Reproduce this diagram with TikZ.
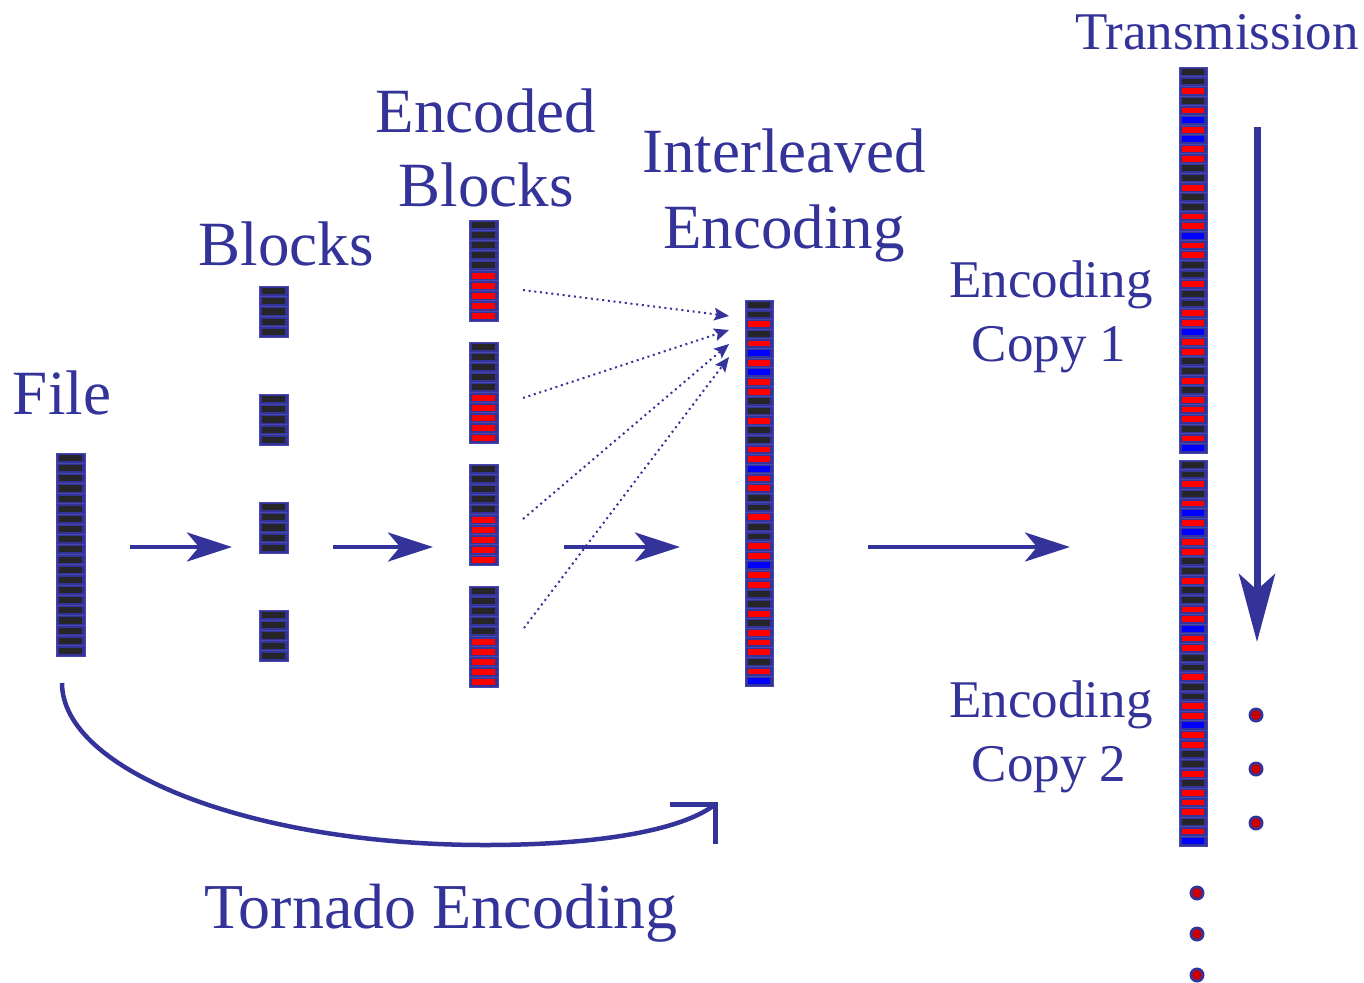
\documentclass[tikz,border=0pt]{standalone}
\usepackage{fontspec}
\setmainfont{Liberation Serif}
\usetikzlibrary{arrows.meta}

\definecolor{ink}{RGB}{51,51,153}
\definecolor{cellline}{RGB}{72,72,175}
\definecolor{K}{RGB}{38,38,40}
\definecolor{R}{RGB}{255,0,0}
\definecolor{B}{RGB}{0,0,255}
\definecolor{dotred}{RGB}{204,0,0}

% bar colour sequences
\def\fileList{K,K,K,K,K,K,K,K,K,K,K,K,K,K,K,K,K,K,K,K}
\def\blockList{K,K,K,K,K}
\def\codedList{K,K,K,K,K,R,R,R,R,R}
\def\mixList{K,K,R,K,R,B,R,B,R,R,K,K,R,K,K,R,R,B,R,R,K,K,R,K,K,R,R,B,R,R,K,K,R,K,R,R,R,K,R,B}

% #1 left x, #2 top y, #3 width, #4 cell height, #5 colour list macro
\newcommand{\drawstrip}[5]{%
  \foreach \c [count=\i from 0] in #5 {
    \path[fill=ink,draw=cellline,line width=0.8pt] (#1,{#2+\i*#4}) rectangle ++(#3,#4);
    \path[fill=\c] ({#1+3},{#2+\i*#4+0.2*#4}) rectangle ({#1+#3-3},{#2+\i*#4+0.8*#4});
  }%
}

\tikzset{
  biglabel/.style={text=ink,inner sep=0pt,anchor=base,font=\fontsize{63pt}{63pt}\selectfont},
  smalllabel/.style={text=ink,inner sep=0pt,anchor=base,font=\fontsize{53pt}{53pt}\selectfont},
  flowarrow/.style={draw=ink,line width=4.5pt,-{Stealth[length=45pt,width=29pt,inset=12pt]}},
  fanarrow/.style={draw=ink,line width=2pt,dash pattern=on 2pt off 3.7pt,
    -{Stealth[length=15pt,width=13pt,inset=3pt,line width=0pt]}},
  timearrow/.style={draw=ink,line width=7pt,-{Stealth[length=68pt,width=36pt,inset=16pt]}},
  curvearrow/.style={draw=ink,line width=4.5pt},
}

\begin{document}
\begin{tikzpicture}[x=1pt,y=-1pt]
\useasboundingbox (0,0) rectangle (1364,982);

% ---- strips ----
\drawstrip{56}{453}{29}{10.15}{\fileList}
\foreach \t in {286,394,502,610} {\drawstrip{259}{\t}{29}{10.2}{\blockList}}
\foreach \t in {220,342,464,586} {\drawstrip{469}{\t}{29}{10.1}{\codedList}}
\drawstrip{745}{300}{28}{9.65}{\mixList}
\drawstrip{1179}{67}{28}{9.65}{\mixList}
\drawstrip{1179}{460}{28}{9.65}{\mixList}

% ---- labels ----
\node[biglabel] (lFile) at (62,414) {File};
\node[biglabel] (lBlocks) at (286,265) {Blocks};
\node[biglabel] (lEnc1) at (486,132) {Encoded};
\node[biglabel] (lEnc2) at (486,206) {Blocks};
\node[biglabel] (lInt1) at (784,172) {Interleaved};
\node[biglabel] (lInt2) at (784,248) {Encoding};
\node[smalllabel] (lTrans) at (1217,50) {Transmission};
\node[smalllabel] (lCopyA1) at (1051,297) {Encoding};
\node[smalllabel] (lCopyA2) at (1049,361) {Copy 1};
\node[smalllabel] (lCopyB1) at (1051,717) {Encoding};
\node[smalllabel] (lCopyB2) at (1049,781) {Copy 2};
\node[biglabel,font=\fontsize{64pt}{64pt}\selectfont] (lTornado) at (441,928) {Tornado Encoding};

% ---- horizontal flow arrows ----
\coordinate (fa1) at (130,547); \coordinate (fb1) at (232,547);
\coordinate (fa2) at (333,547); \coordinate (fb2) at (433,547);
\coordinate (fa3) at (564,547); \coordinate (fb3) at (680,547);
\coordinate (fa4) at (868,547); \coordinate (fb4) at (1070,547);
\draw[flowarrow] (fa1) -- (fb1);
\draw[flowarrow] (fa2) -- (fb2);
\draw[flowarrow] (fa3) -- (fb3);
\draw[flowarrow] (fa4) -- (fb4);

% ---- dotted fan into the interleaved strip ----
\coordinate (da1) at (523,290); \coordinate (db1) at (729,316);
\coordinate (da2) at (523,398); \coordinate (db2) at (729,330);
\coordinate (da3) at (523,519); \coordinate (db3) at (729,344);
\coordinate (da4) at (524,628); \coordinate (db4) at (729,357);
\draw[fanarrow] (da1) -- (db1);
\draw[fanarrow] (da2) -- (db2);
\draw[fanarrow] (da3) -- (db3);
\draw[fanarrow] (da4) -- (db4);

% ---- transmission direction ----
\coordinate (ta) at (1257,127); \coordinate (tb) at (1257,642);
\draw[timearrow] (ta) -- (tb);

% ---- tornado encoding curve with its hook ----
\coordinate (c0) at (62,683);
\coordinate (c1) at (485,845);
\coordinate (c2) at (713,806);
\draw[curvearrow] (c0) .. controls (62,770) and (250,845) .. (c1)
                       .. controls (600,845) and (680,830) .. (c2);
\coordinate (h0) at (670,804);
\coordinate (h1) at (715,804);
\coordinate (h2) at (715,844);
\draw[ink,line width=5pt,miter limit=10] (h0) -- (h1) -- (h2);

% ---- continuation dots ----
\foreach \y in {715,769,823} {
  \fill[ink] (1256,\y) circle (7.5);
  \fill[dotred] (1256,\y) circle (4.8);
}
\foreach \y in {893,934,975} {
  \fill[ink] (1197,\y) circle (7.5);
  \fill[dotred] (1197,\y) circle (4.8);
}
\end{tikzpicture}
\end{document}
